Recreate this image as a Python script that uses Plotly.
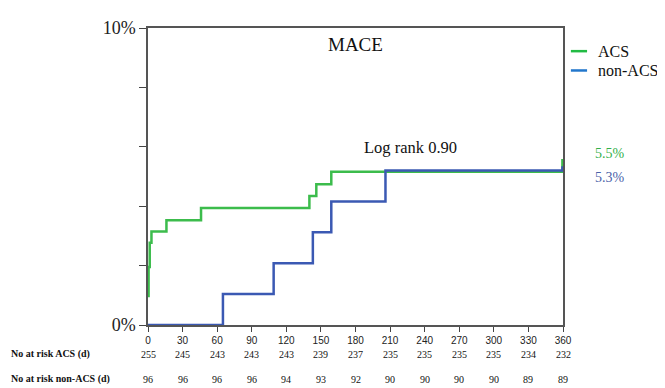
import plotly.graph_objects as go

# Cumulative incidence (%) step data
acs_t = [0, 0.5, 1.5, 3, 16, 46, 140, 146, 159, 359.5]
acs_y = [0.98, 1.95, 2.77, 3.15, 3.53, 3.94, 4.34, 4.74, 5.16, 5.55]
non_t = [0, 65, 109, 143, 159, 206, 359.5]
non_y = [0.0, 1.04, 2.08, 3.12, 4.16, 5.2, 5.3]

tick_days = [0, 30, 60, 90, 120, 150, 180, 210, 240, 270, 300, 330, 360]
risk_acs = [255, 245, 243, 243, 243, 239, 237, 235, 235, 235, 235, 234, 232]
risk_non = [96, 96, 96, 96, 94, 93, 92, 90, 90, 90, 90, 89, 89]

y_ticks = [0, 2, 4, 6, 8, 10]
y_labels = ["0%", "", "", "", "", "10%"]

GREEN = "#3cbc4c"
BLUE = "#3b59b3"
SERIF = "Liberation Serif"

fig = go.Figure()
fig.add_trace(go.Scatter(x=acs_t + [360], y=acs_y + [acs_y[-1]], mode="lines", line_shape="hv",
                         line=dict(color=GREEN, width=2.5), name="ACS", showlegend=False))
fig.add_trace(go.Scatter(x=non_t + [360], y=non_y + [non_y[-1]], mode="lines", line_shape="hv",
                         line=dict(color=BLUE, width=2.5), name="non-ACS", showlegend=False))

ann = []
ann.append(dict(x=0.5, y=0.985, xref="paper", yref="paper", text="MACE", showarrow=False,
                font=dict(family=SERIF, size=19, color="#111"), xanchor="center", yanchor="top"))
ann.append(dict(x=186, y=5.96, xref="x", yref="y", text="Log rank 0.90", showarrow=False,
                font=dict(family=SERIF, size=16.5, color="#111"), xanchor="left", yanchor="middle"))
ann.append(dict(x=1.072, y=5.77, xref="paper", yref="y", text=f"{acs_y[-1]:.1f}%", showarrow=False,
                font=dict(family=SERIF, size=14, color="#33b04a"), xanchor="left", yanchor="middle"))
ann.append(dict(x=1.072, y=4.95, xref="paper", yref="y", text=f"{non_y[-1]:.1f}%", showarrow=False,
                font=dict(family=SERIF, size=14, color="#4a62a8"), xanchor="left", yanchor="middle"))

# legend (manual)
shapes = []
for i, (lbl, col) in enumerate([("ACS", "#22bb44"), ("non-ACS", "#2277cc")]):
    yy = 0.922 - i * 0.065
    shapes.append(dict(type="line", xref="paper", yref="paper", x0=1.019, x1=1.058, y0=yy, y1=yy,
                       line=dict(color=col, width=2.5)))
    ann.append(dict(x=1.08, y=yy, xref="paper", yref="paper", text=lbl, showarrow=False,
                    font=dict(family=SERIF, size=16, color="#111"), xanchor="left", yanchor="middle"))

# number at risk rows
for label, vals, yp in [("No at risk ACS (d)", risk_acs, -0.098), ("No at risk non-ACS (d)", risk_non, -0.182)]:
    ann.append(dict(x=-139.5 / 415, y=yp, xref="paper", yref="paper", text=f"<b>{label}</b>", showarrow=False,
                    font=dict(family=SERIF, size=10, color="#111"), xanchor="left", yanchor="middle"))
    for d, v in zip(tick_days, vals):
        ann.append(dict(x=d, y=yp, xref="x", yref="paper", text=str(v), showarrow=False,
                        font=dict(family=SERIF, size=10, color="#111"), xanchor="center", yanchor="middle"))

fig.update_layout(
    width=657, height=380,
    margin=dict(l=140, r=102, t=10, b=63),
    paper_bgcolor="white", plot_bgcolor="white",
    annotations=ann, shapes=shapes, showlegend=False,
    xaxis=dict(range=[0, 360], tickvals=tick_days, ticks="outside", ticklen=5, tickcolor="#444",
               showline=True, linecolor="#555", linewidth=1.5, mirror=True, showgrid=False, zeroline=False,
               tickfont=dict(family="Liberation Sans", size=10, color="#222")),
    yaxis=dict(range=[0, 10], tickvals=y_ticks, ticktext=y_labels, ticks="outside", ticklen=7, tickcolor="#444",
               showline=True, linecolor="#555", linewidth=1.5, mirror=True, showgrid=False, zeroline=False,
               tickfont=dict(family=SERIF, size=18, color="#222")),
)
fig.write_html("out.html")
